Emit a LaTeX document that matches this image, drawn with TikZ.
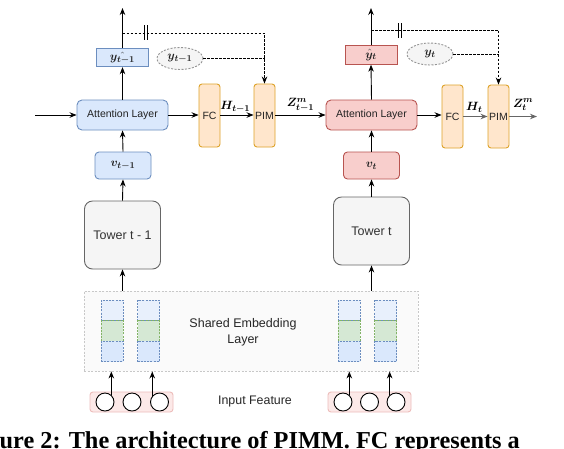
\documentclass[tikz,border=0pt]{standalone}
\usepackage{amsmath}
\usepackage{bm}
\usepackage{fontspec}
\setmainfont{Liberation Sans}
\newfontfamily\capfont{Liberation Serif}
\usetikzlibrary{arrows.meta,shapes.geometric}
\definecolor{bfill}{HTML}{DAE8FC}
\definecolor{bfilllt}{HTML}{E8F0FC}
\definecolor{bdraw}{HTML}{6C8EBF}
\definecolor{rfill}{HTML}{F8CECC}
\definecolor{rdraw}{HTML}{B85450}
\definecolor{ofill}{HTML}{FFE6CC}
\definecolor{odraw}{HTML}{DDA32A}
\definecolor{gfill}{HTML}{F5F5F5}
\definecolor{gdraw}{HTML}{666666}
\definecolor{grfill}{HTML}{D5E8D4}
\definecolor{grdraw}{HTML}{82B366}
\definecolor{pfill}{HTML}{FCE9E8}
\definecolor{pdraw}{HTML}{EDBDBB}
\definecolor{embfill}{HTML}{FAFAFA}
\definecolor{embdraw}{HTML}{C8C8C8}
\definecolor{txt}{HTML}{222222}
\begin{document}
\begin{tikzpicture}[x=1pt,y=-1pt,
  arr/.style={-{Stealth[length=7pt,width=5.5pt]}, line width=0.9pt},
  thickarr/.style={-{Stealth[length=7pt,width=5.5pt]}, line width=1.8pt, draw=gdraw},
  dline/.style={line width=0.9pt, dash pattern=on 2.5pt off 1.5pt},
  base/.style={line width=0.9pt, inner sep=0pt, text=txt},
  bluebox/.style={base, draw=bdraw, fill=bfill},
  redbox/.style={base, draw=rdraw, fill=rfill},
  orbox/.style={base, draw=odraw, fill=ofill, rounded corners=3pt, minimum width=21pt, minimum height=63pt, font=\fontsize{10.5}{12}\selectfont},
  attbox/.style={rounded corners=5pt, minimum width=91pt, minimum height=30pt, font=\fontsize{10.5}{12}\selectfont},
  vbox/.style={rounded corners=4pt, minimum width=56pt, minimum height=27pt, font=\fontsize{12.5}{14}\selectfont},
  ybox/.style={minimum width=52pt, minimum height=18.5pt, font=\fontsize{12.5}{14}\selectfont},
  ell/.style={ellipse, base, draw=gdraw!70, fill=gfill, dash pattern=on 2pt off 1.5pt, minimum width=46pt, minimum height=22pt, font=\fontsize{12.5}{14}\selectfont},
  tower/.style={base, draw=gdraw, fill=gfill, rounded corners=8pt, minimum width=76pt, minimum height=68pt, font=\fontsize{12.5}{14}\selectfont, text=black!80},
  cell/.style={line width=0.8pt, dash pattern=on 2pt off 1.2pt, minimum width=22pt, minimum height=20.5pt, inner sep=0pt},
  inbox/.style={base, draw=pdraw, fill=pfill, rounded corners=3pt, minimum width=83pt, minimum height=20pt},
  circ/.style={circle, draw=black, line width=0.9pt, fill=white, minimum size=18pt, inner sep=0pt},
  lab/.style={font=\fontsize{12.5}{14}\selectfont, inner sep=1pt}
]
\useasboundingbox (0,0) rectangle (564,448);
\clip (0,0) rectangle (564,448);
\fill[white] (0,0) rectangle (564,448);

% embedding layer
\node[base, draw=embdraw, fill=embfill, dash pattern=on 2pt off 1.5pt, minimum width=334pt, minimum height=80pt] (emb) at (251,331) {};
\node[font=\fontsize{12.5}{16}\selectfont, align=center, text=black!85, inner sep=0pt] (embtxt) at (243,332) {Shared Embedding\\Layer};
\foreach \i/\x in {1/112,2/148.5,3/349,4/385.5}{
  \node[cell, draw=bdraw, fill=bfilllt] (c\i a) at (\x,310.5) {};
  \node[cell, draw=grdraw, fill=grfill] (c\i b) at (\x,331) {};
  \node[cell, draw=bdraw, fill=bfill] (c\i c) at (\x,351.5) {};
}

% input features
\node[inbox] (in1) at (131.5,402) {};
\node[inbox] (in2) at (369.5,402) {};
\node[circ] (k1) at (105,402) {};
\node[circ] (k2) at (132,402) {};
\node[circ] (k3) at (159.5,402) {};
\node[circ] (k4) at (343,402) {};
\node[circ] (k5) at (369.5,402) {};
\node[circ] (k6) at (396,402) {};
\node[font=\fontsize{12.4}{14}\selectfont, text=black!85, inner sep=0pt] (inft) at (255,402) {Input Feature};
\draw[arr] (k1.48) -- (k1.48 |- emb.south);
\draw[arr] (k3.140) -- (k3.140 |- emb.south);
\draw[arr] (k4.48) -- (k4.48 |- emb.south);
\draw[arr] (k6.132) -- (k6.132 |- emb.south);

% towers
\node[tower] (tw1) at (122.5,235) {Tower t - 1};
\node[tower] (tw2) at (371.5,231) {Tower t};
\draw[arr] (tw1.south |- emb.north) -- (tw1.south);
\draw[arr] (tw2.south |- emb.north) -- (tw2.south);

% left stage
\node[bluebox, vbox] (v1) at (123,165.5) {$\bm{v_{t-1}}$};
\node[bluebox, attbox] (att1) at (122.5,115) {Attention Layer};
\node[bluebox, ybox] (yh1) at (122.5,57.5) {$\bm{\hat{y_{t-1}}}$};
\node[ell] (el1) at (180,58.5) {$\bm{y_{t-1}}$};
\node[orbox] (fc1) at (209.5,115.5) {FC};
\node[orbox] (pim1) at (264.5,115.5) {PIM};
\coordinate (top1) at (122.5,8);
\coordinate (inl) at (35,115);
\coordinate (d1) at (122.5,33);
\draw[arr] (tw1.north) -- (v1.south);
\draw[arr] (v1.north) -- (att1.south);
\draw[arr] (att1.north) -- (yh1.south);
\draw[arr] (yh1.north) -- (top1);
\draw[arr] (inl) -- (att1.west);
\draw[arr] (att1.east) -- (att1.east -| fc1.west);
\draw[arr] (fc1.east |- att1.east) -- node[lab, above, pos=0.45, yshift=1pt] {$\bm{H_{t-1}}$} (pim1.west |- att1.east);
\draw[dline, -{Stealth[length=7pt,width=5.5pt]}] (d1) -| (pim1.north);
\draw[dline] (el1.east) -- (el1.east -| pim1.north);
\draw[line width=1.3pt] (144.3,25) -- (144.3,40) (147.5,25) -- (147.5,40);

% right stage
\node[redbox, vbox] (v2) at (371.5,165.5) {$\bm{v_{t}}$};
\node[redbox, attbox] (att2) at (371.5,115) {Attention Layer};
\node[redbox, ybox] (yh2) at (371,55) {$\bm{\hat{y}_{t}}$};
\node[ell] (el2) at (430,54) {$\bm{y_{t}}$};
\node[orbox] (fc2) at (452.5,116.5) {FC};
\node[orbox] (pim2) at (498.5,116.5) {PIM};
\coordinate (top2) at (371,8);
\coordinate (d2) at (371,30);
\coordinate (out2) at (537,116.5);
\draw[arr] (tw2.north) -- (v2.south);
\draw[arr] (v2.north) -- (att2.south);
\draw[arr] (att2.north) -- (yh2.south);
\draw[arr] (yh2.north) -- (top2);
\draw[arr] (pim1.east |- att1.east) -- node[lab, above, pos=0.5, yshift=2pt] {$\bm{Z^m_{t-1}}$} (att2.west);
\draw[arr] (att2.east) -- (att2.east -| fc2.west);
\draw[thickarr] (fc2.east) -- node[lab, above, pos=0.45, yshift=2pt] {$\bm{H_{t}}$} (pim2.west);
\draw[thickarr] (pim2.east) -- node[lab, above, pos=0.5, yshift=4pt] {$\bm{Z^m_{t}}$} (out2);
\draw[dline, -{Stealth[length=7pt,width=5.5pt]}] (d2) -| (pim2.north);
\draw[dline] (el2.east) -- (el2.east -| pim2.north);
\draw[line width=1.3pt] (398.3,23) -- (398.3,38) (401.5,23) -- (401.5,38);

% caption (clipped at the picture's edges, as in the reference)
\node[anchor=base east, inner sep=0pt, font=\capfont\bfseries\fontsize{24.3}{27}\selectfont] (cap) at (520,448.5) {Figure 2: The architecture of PIMM. FC represents a};
\end{tikzpicture}
\end{document}
